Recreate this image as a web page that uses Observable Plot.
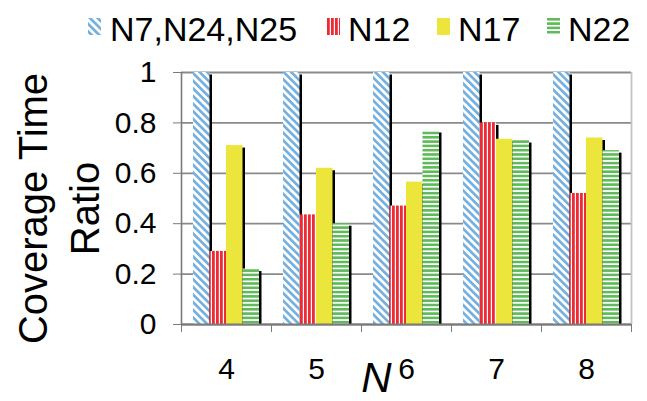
<!DOCTYPE html>
<html>
<head>
<meta charset="utf-8">
<script src="https://cdn.jsdelivr.net/npm/d3@7"></script>
<script src="https://cdn.jsdelivr.net/npm/@observablehq/plot@0.6"></script>
<style>
  html, body { margin: 0; padding: 0; background: #fff; }
  body { width: 647px; height: 401px; overflow: hidden; font-family: "Liberation Sans", Arial, Helvetica, sans-serif; }
  #legend { position: relative; height: 50px; }
  #legend .sw { position: absolute; top: 18px; width: 13px; height: 17px; }
  #legend .lbl { position: absolute; top: 12px; font-size: 34px; line-height: 34px; color: #000; white-space: nowrap; }
</style>
</head>
<body>
<div id="legend"></div>
<div id="chart"></div>
<script>
// Number of nodes N on the x axis
const nodeCounts = [4, 5, 6, 7, 8];
// Series names, in legend order
const seriesNames = ["N7,N24,N25", "N12", "N17", "N22"];
// Coverage time ratio per series, one value per N
const ratioN7N24N25 = [1.0, 1.0, 1.0, 1.0, 1.0];
const ratioN12 = [0.29, 0.435, 0.47, 0.80, 0.52];
const ratioN17 = [0.71, 0.62, 0.565, 0.735, 0.74];
const ratioN22 = [0.22, 0.40, 0.77, 0.73, 0.69];
// Y axis tick values
const yTicks = [0, 0.2, 0.4, 0.6, 0.8, 1];

const seriesValues = [ratioN7N24N25, ratioN12, ratioN17, ratioN22];
const rows = [];
nodeCounts.forEach((n, i) => {
  seriesValues.forEach((vals, j) => rows.push({n, j, series: seriesNames[j], value: vals[i]}));
});

// fill patterns for each series
const BLUE = "#74b0e0", RED = "#ee2b35", YELLOW = "#ebe53c", GREEN = "#5fba5a";
function patternDefs(prefix) {
  return `
    <pattern id="${prefix}0" patternUnits="userSpaceOnUse" width="5.4" height="5.4" patternTransform="rotate(-45)">
      <rect width="5.4" height="5.4" fill="#fff"/><rect width="2.7" height="5.4" fill="${BLUE}"/>
    </pattern>
    <pattern id="${prefix}1" patternUnits="userSpaceOnUse" width="4" height="4">
      <rect width="4" height="4" fill="#fff"/><rect width="2.8" height="4" fill="${RED}"/>
    </pattern>
    <pattern id="${prefix}2" patternUnits="userSpaceOnUse" width="4" height="4">
      <rect width="4" height="4" fill="${YELLOW}"/>
    </pattern>
    <pattern id="${prefix}3" patternUnits="userSpaceOnUse" width="4" height="4.3">
      <rect width="4" height="4.3" fill="#fff"/><rect width="4" height="2.6" fill="${GREEN}"/>
    </pattern>`;
}

// legend
const legend = document.getElementById("legend");
const swatchX = [88, 327, 437, 547];
const labelX = [110, 348, 458, 568];
seriesNames.forEach((name, j) => {
  const sw = document.createElementNS("http://www.w3.org/2000/svg", "svg");
  sw.setAttribute("class", "sw");
  sw.style.left = swatchX[j] + "px";
  sw.innerHTML = `<defs>${patternDefs("lg" + j + "-")}</defs><rect width="13" height="17" fill="url(#lg${j}-${j})"/>`;
  legend.appendChild(sw);
  const lbl = document.createElement("span");
  lbl.className = "lbl";
  lbl.style.left = labelX[j] + "px";
  lbl.textContent = name;
  legend.appendChild(lbl);
});

// grouped bars: four bars side by side inside each unit-wide slot
const barW = 16.5 / 90;
const pad = (1 - seriesNames.length * barW) / 2;
const x1 = d => d.n - 0.5 + pad + d.j * barW;
const x2 = d => x1(d) + barW;

const GRID = "#8a8a8a";
const xDomain = [nodeCounts[0] - 0.5, nodeCounts[nodeCounts.length - 1] + 0.5];
const slotEdges = d3.range(xDomain[0], xDomain[1] + 0.01, 1);

const chart = Plot.plot({
  width: 647,
  height: 351,
  marginLeft: 181,
  marginRight: 16,
  marginTop: 22,
  marginBottom: 77,
  style: {fontFamily: "'Liberation Sans', Arial, Helvetica, sans-serif", fontSize: "30px", background: "#fff", color: "#000", overflow: "visible"},
  x: {domain: xDomain},
  y: {domain: [0, 1]},
  marks: [
    () => {
      const g = document.createElementNS("http://www.w3.org/2000/svg", "defs");
      g.innerHTML = patternDefs("bar");
      return g;
    },
    Plot.gridY(yTicks, {stroke: GRID, strokeOpacity: 1, strokeWidth: 1.8}),
    Plot.ruleX([xDomain[1]], {stroke: "#c4c4c4", strokeWidth: 1.8}),
    // drop shadows behind bars
    Plot.rectY(rows, {x1, x2, y1: 0, y2: "value", fill: "#000", dx: 2.5, insetTop: 2.5}),
    Plot.rectY(rows, {x1, x2, y1: 0, y2: "value", fill: d => `url(#bar${d.j})`}),
    Plot.ruleX([xDomain[0]], {stroke: "#7a7a7a", strokeWidth: 1.6}),
    Plot.ruleY([0], {stroke: "#7a7a7a", strokeWidth: 1.8}),
    Plot.axisY({ticks: yTicks, tickSize: 8, tickPadding: 17, fontSize: 30, stroke: "#7a7a7a", label: null,
      tickFormat: d => String(+d.toFixed(1))}),
    Plot.axisX({ticks: slotEdges, tickSize: 8, tickFormat: () => "", stroke: "#7a7a7a", label: null}),
    Plot.axisX({ticks: nodeCounts, tickSize: 0, tickPadding: 33, fontSize: 30, label: null, tickFormat: d => String(d)}),
    Plot.text(["Coverage Time\nRatio"], {frameAnchor: "left", rotate: -90, dx: -125, dy: 10,
      fontSize: 40, lineHeight: 1.29, textAnchor: "middle", lineAnchor: "middle", fill: "#000"}),
    Plot.text(["N"], {frameAnchor: "bottom", dx: -30, dy: 67, lineAnchor: "bottom",
      fontSize: 42, fontStyle: "italic", fill: "#000"})
  ]
});
document.getElementById("chart").appendChild(chart);
</script>
</body>
</html>
